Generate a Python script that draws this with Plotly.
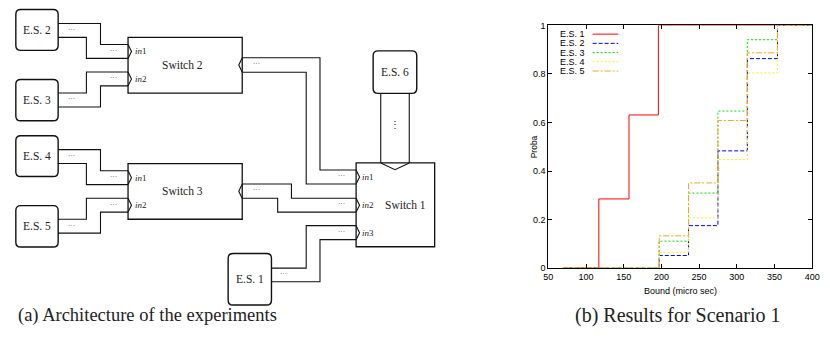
import plotly.graph_objects as go

W, H = 830, 343

# ---------------- data ----------------
series_names = ["E.S. 1", "E.S. 2", "E.S. 3", "E.S. 4", "E.S. 5"]
es1_bound = [70, 117, 157, 196, 400]
es1_proba = [0, 0.285, 0.631, 1, 1]
bound_other = [70, 197, 236, 275, 314, 354, 400]
es2_proba = [0, 0.052, 0.175, 0.483, 0.863, 1, 1]
es3_proba = [0, 0.111, 0.309, 0.647, 0.941, 1, 1]
es4_proba = [0, 0.065, 0.207, 0.447, 0.804, 1, 1]
es5_proba = [0, 0.133, 0.351, 0.608, 0.887, 1, 1]
x_ticks = [50, 100, 150, 200, 250, 300, 350, 400]
y_ticks = [0, 0.2, 0.4, 0.6, 0.8, 1]
y_tick_labels = ["0", "0.2", "0.4", "0.6", "0.8", "1"]

series_x = [es1_bound, bound_other, bound_other, bound_other, bound_other]
series_y = [es1_proba, es2_proba, es3_proba, es4_proba, es5_proba]

# styles
colors = ["#ff0000", "#0000ff", "#00e000", "#f2f020", "#ffa020"]
dashes = ["solid", "4px,2px", "2px,2px", "2px,2px", "6px,2px,2px,2px"]

SERIF = "Liberation Serif, DejaVu Serif, serif"
SANS = "Liberation Sans, Arial, sans-serif"


def px(x):
    return x / W


def py(y):
    return 1 - y / H


def pt(x, y):
    return f"{px(x):.5f},{py(y):.5f}"


shapes = []
annotations = []


def polyline(pts, color="#111", width=1.1):
    d = "M " + " L ".join(pt(x, y) for x, y in pts)
    shapes.append(dict(type="path", xref="paper", yref="paper", path=d,
                       line=dict(color=color, width=width)))


def rbox(x0, y0, x1, y1, r=5, width=1.4):
    d = (f"M {pt(x0 + r, y0)} L {pt(x1 - r, y0)} Q {pt(x1, y0)} {pt(x1, y0 + r)} "
         f"L {pt(x1, y1 - r)} Q {pt(x1, y1)} {pt(x1 - r, y1)} "
         f"L {pt(x0 + r, y1)} Q {pt(x0, y1)} {pt(x0, y1 - r)} "
         f"L {pt(x0, y0 + r)} Q {pt(x0, y0)} {pt(x0 + r, y0)} Z")
    shapes.append(dict(type="path", xref="paper", yref="paper", path=d,
                       line=dict(color="#111", width=width)))


def rect(x0, y0, x1, y1, width=1.3):
    shapes.append(dict(type="rect", xref="paper", yref="paper",
                       x0=px(x0), x1=px(x1), y0=py(y1), y1=py(y0),
                       line=dict(color="#111", width=width)))


def text(x, y, s, size=11, anchor="center", family=SERIF, color="#222", angle=0):
    annotations.append(dict(x=px(x), y=py(y), xref="paper", yref="paper", text=s,
                            showarrow=False, xanchor=anchor, yanchor="middle",
                            font=dict(family=family, size=size, color=color),
                            textangle=angle))


def in_port(x0, a, b):
    polyline([(x0, a), (x0 + 3.5, (a + b) / 2), (x0, b)], width=1.1)


def out_port(x0, a, b):
    polyline([(x0, a), (x0 - 3.5, (a + b) / 2), (x0, b)], width=1.1)


dots = "···"

# ---------------- diagram ----------------
for k, off in ((0, 0.0), (1, 130.0)):
    es_top = "E.S. 2" if k == 0 else "E.S. 4"
    es_bot = "E.S. 3" if k == 0 else "E.S. 5"
    sw = "Switch 2" if k == 0 else "Switch 3"
    rbox(11, 4.7 + off, 54, 46.7 + off)
    rbox(11, 76.7 + off, 54, 119.3 + off)
    text(32.5, 25.7 + off, es_top, size=11.5)
    text(32.5, 98 + off, es_bot, size=11.5)
    polyline([(54, 19 + off), (97, 19 + off), (97, 40.7 + off), (125, 40.7 + off)])
    polyline([(54, 33.3 + off), (82.7, 33.3 + off), (82.7, 55 + off), (125, 55 + off)])
    polyline([(54, 90.7 + off), (82.7, 90.7 + off), (82.7, 69 + off), (125, 69 + off)])
    polyline([(54, 105 + off), (97, 105 + off), (97, 83.3 + off), (125, 83.3 + off)])
    rect(125, 33.3 + off, 241, 90.7 + off)
    text(180, 62 + off, sw, size=11.5)
    in_port(125, 40.7 + off, 55 + off)
    in_port(125, 69 + off, 83.3 + off)
    out_port(241, 54.3 + off, 69.3 + off)
    text(130, 47.8 + off, "<i>in</i>1", size=9, anchor="left")
    text(130, 76.2 + off, "<i>in</i>2", size=9, anchor="left")
    text(68, 25.5 + off, dots, size=7)
    text(68, 97.3 + off, dots, size=7)
    text(110.7, 47 + off, dots, size=7)
    text(110.7, 75.5 + off, dots, size=7)
    text(255, 61 + off, dots, size=7)

# switch 2 -> switch 1 in1
polyline([(241, 54.3), (320, 54.3), (320, 170), (356.7, 170)])
polyline([(241, 69.3), (306, 69.3), (306, 184.3), (356.7, 184.3)])
# switch 3 -> switch 1 in2
polyline([(241, 184.3), (291, 184.3), (291, 199), (356.7, 199)])
polyline([(241, 199), (277, 199), (277, 213.3), (356.7, 213.3)])
# E.S. 1 -> switch 1 in3
rbox(226.7, 256, 270.7, 309)
text(248.7, 282.5, "E.S. 1", size=11.5)
polyline([(270.7, 271), (306, 271), (306, 227.3), (356.7, 227.3)])
polyline([(270.7, 285), (320, 285), (320, 241.7), (356.7, 241.7)])
text(283.3, 277.3, dots, size=7)
# E.S. 6 -> switch 1 top
rbox(374, 47.3, 418.3, 91)
text(396.2, 69, "E.S. 6", size=11.5)
polyline([(381.7, 91), (381.7, 162.7)])
polyline([(410.7, 91), (410.7, 162.7)])
polyline([(381.7, 162.7), (396.2, 169.7), (410.7, 162.7)])
text(396.2, 123, "⋮", size=10)
# switch 1
rect(356.7, 162.7, 436.5, 249)
text(406.7, 206, "Switch 1", size=11.5)
in_port(356.7, 170, 184.3)
in_port(356.7, 199, 213.3)
in_port(356.7, 227.3, 241.7)
text(361, 177.2, "<i>in</i>1", size=9, anchor="left")
text(361, 206.2, "<i>in</i>2", size=9, anchor="left")
text(361, 234.5, "<i>in</i>3", size=9, anchor="left")
text(342, 176.3, dots, size=7)
text(342, 205.3, dots, size=7)
text(341.7, 234, dots, size=7)

# captions
text(145, 320, "(a) Architecture of the experiments", size=18.5, color="#222")
text(684, 320, "(b) Results for Scenario 1", size=20, color="#222")

# ---------------- chart ----------------
fig = go.Figure()
for name, xs, ys, c, d in zip(series_names, series_x, series_y, colors, dashes):
    fig.add_trace(go.Scatter(x=xs, y=ys, mode="lines", name=name, line_shape="hv",
                             line=dict(color=c, width=1.0, dash=d), showlegend=False))

# manual gnuplot-style legend (text left, sample right)
for i, (name, c, d) in enumerate(zip(series_names, colors, dashes)):
    yy = 30 + 9.5 * i
    text(591, yy, name, size=9, anchor="right", family=SANS, color="#000")
    shapes.append(dict(type="line", xref="paper", yref="paper",
                       x0=px(597), x1=px(623), y0=py(yy), y1=py(yy),
                       line=dict(color=c, width=1.0, dash=d)))

text(537, 146, "Proba", size=8.5, family=SANS, color="#000", angle=-90)
text(686, 295, "Bound (micro sec)", size=9, family=SANS, color="#000")

axis_common = dict(showgrid=False, zeroline=False, showline=True, mirror="ticks",
                   linecolor="#000", linewidth=1, ticks="inside", ticklen=4,
                   tickcolor="#000", tickwidth=1,
                   tickfont=dict(family=SANS, size=9, color="#000"), fixedrange=True)

fig.update_layout(
    width=W, height=H,
    margin=dict(l=0, r=0, t=0, b=0),
    paper_bgcolor="#fff", plot_bgcolor="#fff",
    xaxis=dict(domain=[552 / W, 820 / W], range=[50, 400], tickvals=x_ticks, **axis_common),
    yaxis=dict(domain=[1 - 271 / H, 1 - 21 / H], range=[0, 1], tickvals=y_ticks,
               ticktext=y_tick_labels, **axis_common),
    shapes=shapes,
    annotations=annotations,
    showlegend=False,
)

fig.write_html("out.html", config={"displayModeBar": False},
               post_script="document.body.style.margin='0';document.body.style.overflow='hidden';")
